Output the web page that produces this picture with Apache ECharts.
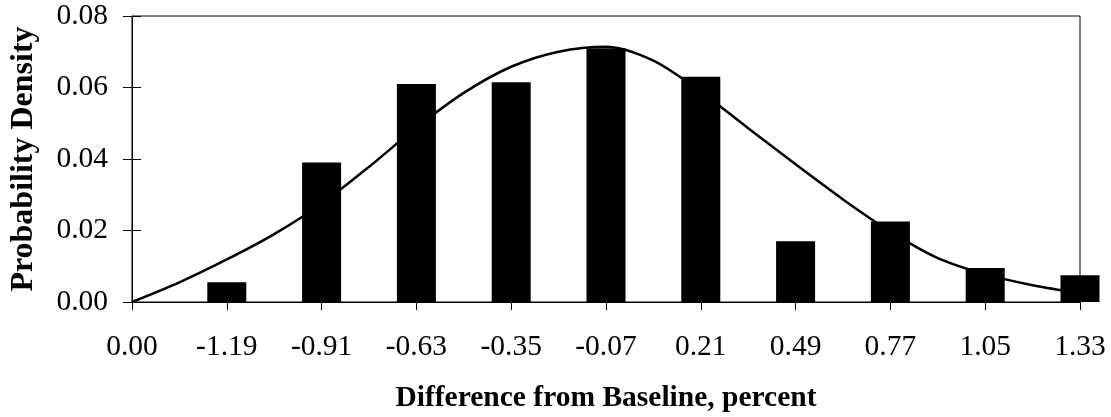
<!DOCTYPE html>
<html>
<head>
<meta charset="utf-8">
<script src="https://cdn.jsdelivr.net/npm/echarts@6/dist/echarts.min.js"></script>
<style>
  html, body { margin: 0; padding: 0; background: #fff; }
  #chart { width: 1111px; height: 417px; }
</style>
</head>
<body>
<div id="chart"></div>
<script>
// Category labels along the horizontal axis (difference from baseline, percent)
const categories = ['0.00', '-1.19', '-0.91', '-0.63', '-0.35', '-0.07', '0.21', '0.49', '0.77', '1.05', '1.33'];

// Histogram bar heights (probability density); the first category has no bar
const barValues = [null, 0.0055, 0.039, 0.061, 0.0615, 0.071, 0.063, 0.017, 0.0225, 0.0095, 0.0075];

// Fitted density curve, sampled at half-category steps
const curvePositions = [0, 0.5, 1, 1.5, 2, 2.5, 3, 3.5, 4, 4.5, 5, 5.5, 6, 6.5, 7, 7.5, 8, 8.5, 9, 9.5, 10];
const curveValues = [0, 0.0055, 0.0119, 0.019, 0.0275, 0.0378, 0.0488, 0.0585, 0.0658, 0.07, 0.0714, 0.0675, 0.0588, 0.0486, 0.0385, 0.0287, 0.0197, 0.0123, 0.0078, 0.0047, 0.0025];

// Vertical axis ticks
const yMin = 0, yMax = 0.08, yStep = 0.02;

const serif = '"Liberation Serif", "Times New Roman", serif';
const chart = echarts.init(document.getElementById('chart'), null, { renderer: 'canvas' });

chart.setOption({
  animation: false,
  backgroundColor: '#fff',
  grid: {
    left: 129, right: 31, top: 16, bottom: 115,
    show: true, borderColor: '#000', borderWidth: 1, backgroundColor: 'transparent'
  },
  xAxis: [
    {
      type: 'category',
      data: categories,
      boundaryGap: false,
      axisLine: { lineStyle: { color: '#000', width: 1 } },
      axisTick: { show: true, length: 8, lineStyle: { color: '#000' } },
      axisLabel: { color: '#000', fontFamily: serif, fontSize: 29.5, margin: 30 },
      splitLine: { show: false }
    },
    {
      type: 'value',
      min: 0, max: categories.length - 1,
      show: false
    }
  ],
  yAxis: [
    {
      type: 'value',
      min: yMin, max: yMax, interval: yStep,
      name: 'Probability Density',
      nameLocation: 'middle',
      nameGap: 92,
      nameTextStyle: { color: '#000', fontFamily: serif, fontSize: 32, fontWeight: 'bold' },
      axisLine: { show: true, lineStyle: { color: '#000', width: 1 } },
      axisTick: { show: true, length: 9, lineStyle: { color: '#000' } },
      axisLabel: {
        color: '#000', fontFamily: serif, fontSize: 29.5, margin: 24,
        formatter: v => v.toFixed(2)
      },
      splitLine: { show: false }
    },
    {
      // inner half of the cross ticks on the value axis
      type: 'value',
      min: yMin, max: yMax, interval: yStep,
      position: 'left',
      axisLine: { show: false },
      axisTick: { show: true, inside: true, length: 9, lineStyle: { color: '#000' } },
      axisLabel: { show: false },
      splitLine: { show: false }
    }
  ],
  graphic: [
    {
      type: 'text',
      x: 606, y: 398,
      style: {
        text: 'Difference from Baseline, percent',
        fill: '#000',
        font: 'bold 29.5px ' + serif,
        textAlign: 'center',
        textVerticalAlign: 'middle'
      }
    }
  ],
  series: [
    {
      type: 'line',
      xAxisIndex: 1,
      yAxisIndex: 0,
      data: curvePositions.map((p, i) => [p, curveValues[i]]),
      smooth: 0.3,
      symbol: 'none',
      lineStyle: { color: '#000', width: 2.5 },
      z: 2
    },
    {
      type: 'bar',
      xAxisIndex: 0,
      yAxisIndex: 0,
      data: barValues,
      barWidth: 39,
      clip: true,
      itemStyle: { color: '#000' },
      z: 3
    }
  ]
});
</script>
</body>
</html>
